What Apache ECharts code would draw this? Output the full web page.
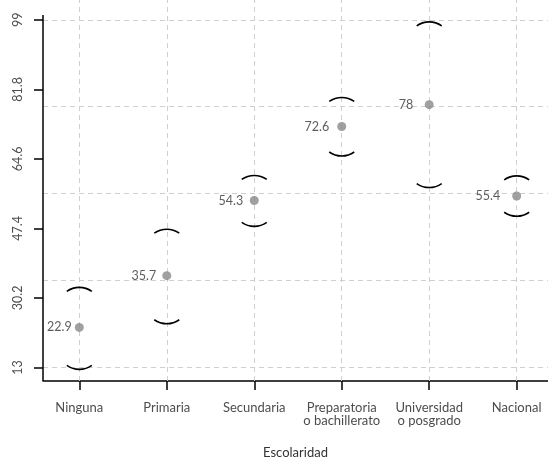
<!DOCTYPE html>
<html>
<head>
<meta charset="utf-8">
<script src="https://cdn.jsdelivr.net/npm/echarts@6/dist/echarts.min.js"></script>
<style>
html,body{margin:0;padding:0;background:#fff;}
#c{width:548px;height:465px;}
</style>
</head>
<body>
<div id="c"></div>
<script>
const categories = ['Ninguna', 'Primaria', 'Secundaria', 'Preparatoria\no bachillerato', 'Universidad\no posgrado', 'Nacional'];
const values = [22.9, 35.7, 54.3, 72.6, 78, 55.4];
const lowerCI = [13.0, 24.3, 48.4, 65.8, 58.0, 50.9];
const upperCI = [32.3, 46.7, 60.0, 79.3, 98.0, 59.9];
const yTicks = [13, 30.2, 47.4, 64.6, 81.8, 99];
const yGrid = [13, 34.5, 56, 77.5, 99];
const xTitle = 'Escolaridad';

const FONT = 'Lato';
const idx = categories.map((c, i) => i);
const labelGap = [3, 6, 6.5, 8, 11.5, 12];
const X_MIN = -0.415, X_MAX = 5.358;
const Y_MIN = 9.64, Y_MAX = 103.9, Y_LINE_TOP = 100.2;

const chart = echarts.init(document.getElementById('c'), null, {renderer: 'canvas'});

const gridLineStyle = {color: '#cfcfcf', type: [5, 4], width: 1};

const option = {
  animation: false,
  backgroundColor: '#ffffff',
  grid: {left: 43, right: 0, top: 0, bottom: 84, containLabel: false},
  xAxis: {
    type: 'value', min: X_MIN, max: X_MAX,
    name: xTitle, nameLocation: 'middle', nameGap: 65,
    nameTextStyle: {fontFamily: FONT, fontSize: 13, color: '#333'},
    axisLine: {show: true, onZero: false, lineStyle: {color: '#000', width: 1.5}},
    axisTick: {show: true, length: 9, customValues: idx, lineStyle: {color: '#000', width: 1.5}},
    axisLabel: {
      customValues: idx, margin: 20, fontFamily: FONT, fontSize: 13, lineHeight: 13.5,
      color: '#4d4d4d', formatter: v => categories[Math.round(v)]
    },
    splitLine: {show: false}
  },
  yAxis: {
    type: 'value', min: Y_MIN, max: Y_MAX,
    axisLine: {show: false, onZero: false},
    axisTick: {show: true, length: 9, customValues: yTicks, lineStyle: {color: '#000', width: 1.5}},
    axisLabel: {
      customValues: yTicks, rotate: 90, margin: 19, fontFamily: FONT, fontSize: 12.5,
      color: '#4d4d4d', formatter: v => String(v)
    },
    splitLine: {show: false}
  },
  series: [
    {
      type: 'scatter',
      z: 3,
      symbol: 'circle',
      symbolSize: 9,
      itemStyle: {color: '#888888'},
      label: {
        show: true, position: 'left', fontFamily: FONT, fontSize: 12.5, color: '#333',
        formatter: p => String(p.value[1])
      },
      data: values.map((v, i) => ({value: [i, v], label: {distance: labelGap[i]}})),
      markLine: {
        silent: true, symbol: 'none', z: 1, animation: false,
        label: {show: false},
        lineStyle: gridLineStyle,
        data: [
          ...idx.map(i => ({xAxis: i})),
          ...yGrid.map(v => ({yAxis: v})),
          [
            {coord: [X_MIN, Y_LINE_TOP], lineStyle: {color: '#000', type: 'solid', width: 1.5}},
            {coord: [X_MIN, Y_MIN]}
          ]
        ]
      }
    },
    {
      type: 'custom',
      z: 2,
      data: idx.map(i => [i, lowerCI[i], upperCI[i]]),
      renderItem: function (params, api) {
        const i = api.value(0);
        const pLo = api.coord([i, api.value(1)]);
        const pHi = api.coord([i, api.value(2)]);
        const w = 25, s = 4;
        const half = w / 2;
        const r = (half * half + s * s) / (2 * s);
        const th = Math.asin(half / r);
        const style = {stroke: '#000', fill: null, lineWidth: 1.6};
        return {
          type: 'group',
          children: [
            {
              type: 'arc',
              shape: {cx: pHi[0], cy: pHi[1] - s / 2 + r, r: r,
                startAngle: -Math.PI / 2 - th, endAngle: -Math.PI / 2 + th, clockwise: true},
              style: style
            },
            {
              type: 'arc',
              shape: {cx: pLo[0], cy: pLo[1] + s / 2 - r, r: r,
                startAngle: Math.PI / 2 - th, endAngle: Math.PI / 2 + th, clockwise: true},
              style: style
            }
          ]
        };
      }
    }
  ]
};
chart.setOption(option);
</script>
</body>
</html>
